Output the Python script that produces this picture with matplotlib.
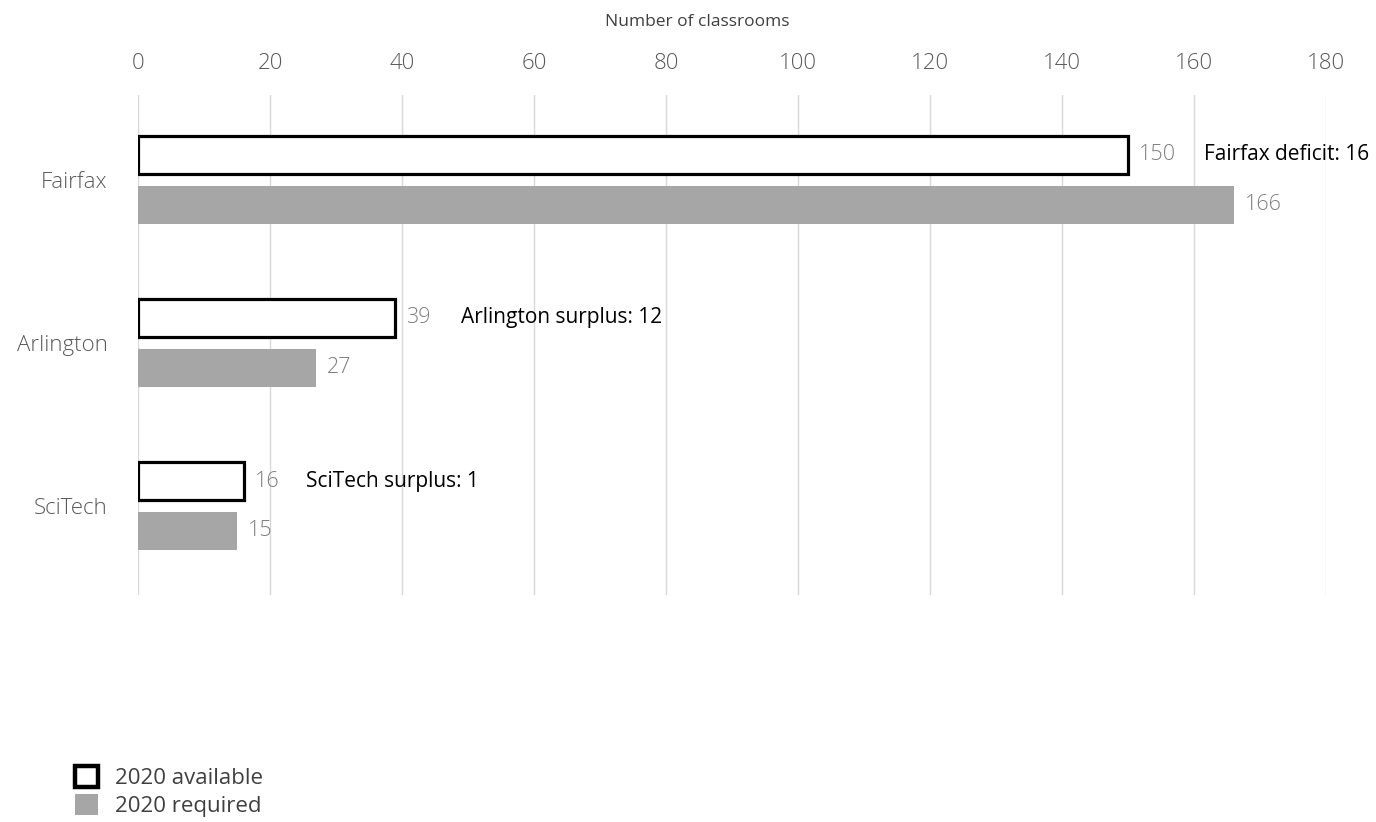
import numpy as np
import matplotlib
matplotlib.use('Agg')
import matplotlib.pyplot as plt
from matplotlib.patches import Patch

plt.rcParams['font.family'] = ['Open Sans', 'DejaVu Sans']

# data
schools = ['Fairfax', 'Arlington', 'SciTech']
available = [150, 39, 16]
required = [166, 27, 15]
notes = ['Fairfax deficit: 16', 'Arlington surplus: 12', 'SciTech surplus: 1']
note_x = [161.5, 49.0, 25.5]
xticks = np.arange(0, 181, 20)

W, H = 1376, 822
fig = plt.figure(figsize=(W / 100, H / 100), dpi=100)
ax = fig.add_axes([138 / W, 1 - 595 / H, (1326 - 138) / W, 500 / H])

y = np.arange(len(schools))
bh = 0.233
off = 0.153
ax.barh(y - off, available, height=bh, color='white', edgecolor='black', linewidth=2.3, zorder=3)
ax.barh(y + off, required, height=bh, color='#a6a6a6', edgecolor='none', zorder=3)

for i in range(len(schools)):
    ax.annotate(str(available[i]), (available[i], y[i] - off), xytext=(8, 0), textcoords='offset points',
                va='center', ha='left', fontsize=15.5, color='#7f7f7f', fontweight='light')
    ax.annotate(str(required[i]), (required[i], y[i] + off), xytext=(8, 0), textcoords='offset points',
                va='center', ha='left', fontsize=15.5, color='#7f7f7f', fontweight='light')
    ax.text(note_x[i], y[i] - off, notes[i], va='center', ha='left', fontsize=15, color='black')

ax.set_xlim(0, 180)
ax.set_ylim(2.546, -0.52)
ax.set_xticks(xticks)
ax.xaxis.tick_top()
ax.tick_params(axis='x', length=0, pad=15, labelsize=16, labelcolor='#595959')
ax.set_yticks(y)
ax.set_yticklabels(schools)
ax.tick_params(axis='y', length=0, pad=22, labelsize=16, labelcolor='#595959')
for lab in ax.get_xticklabels() + ax.get_yticklabels():
    lab.set_fontweight('light')
ax.grid(axis='x', color='#d9d9d9', linewidth=1, zorder=0)
for s in ax.spines.values():
    s.set_visible(False)

fig.text(697 / W, 1 - 22 / H, 'Number of classrooms', ha='center', va='center', fontsize=12.5, color='#404040')

handles = [Patch(facecolor='white', edgecolor='black', linewidth=3.2),
           Patch(facecolor='#a6a6a6', edgecolor='none')]
fig.legend(handles, ['2020 available', '2020 required'], loc='lower left', bbox_to_anchor=(55 / W, -15 / H),
           frameon=False, fontsize=16, labelcolor='#404040', handlelength=1.05, handleheight=1.1,
           handletextpad=0.75, labelspacing=0.22)

plt.savefig('out.png', dpi=100)
